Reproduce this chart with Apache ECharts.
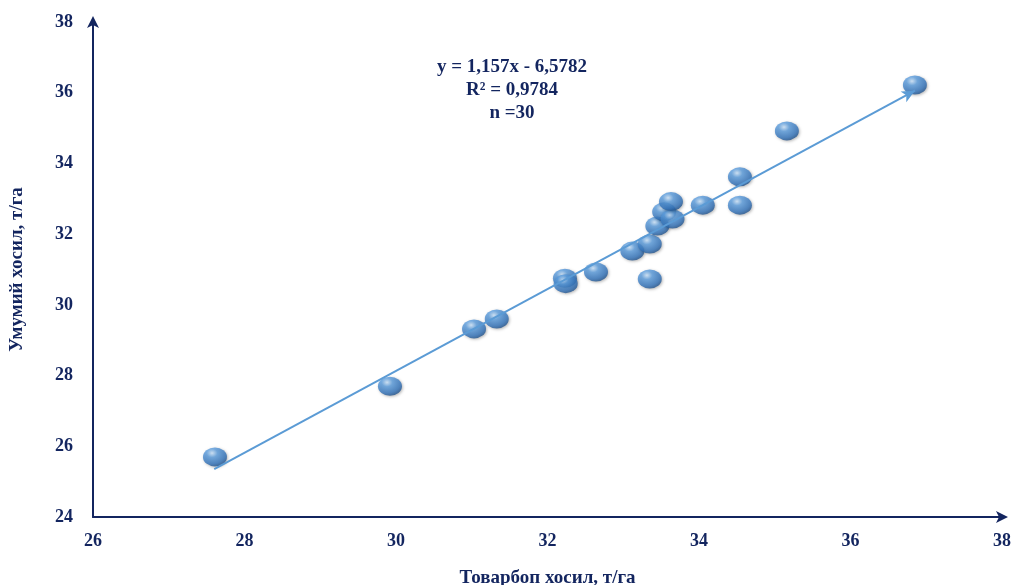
<!DOCTYPE html>
<html>
<head>
<meta charset="utf-8">
<script src="https://cdn.jsdelivr.net/npm/echarts@6/dist/echarts.min.js"></script>
<style>
  html, body { margin: 0; padding: 0; background: #fff; }
  #chart { width: 1019px; height: 585px; }
</style>
</head>
<body>
<div id="chart"></div>
<script>
// observed points (товарбоп хосил, умумий хосил)
var xVals = [27.61, 29.92, 31.03, 31.33, 32.23, 32.24, 32.64, 33.12, 33.35, 33.35, 33.45, 33.54, 33.65, 33.63, 34.05, 34.54, 34.54, 35.16, 36.85];
var yVals = [25.70, 27.70, 29.32, 29.60, 30.75, 30.60, 30.93, 31.52, 31.72, 30.73, 32.23, 32.63, 32.43, 32.92, 32.82, 33.62, 32.82, 34.92, 36.22];
var xTicks = [26, 28, 30, 32, 34, 36, 38];
var yTicks = [24, 26, 28, 30, 32, 34, 36, 38];
var slope = 1.157;
var intercept = -6.5782;
var trendX = [27.6, 36.85];
var annotation = ['y = 1,157x - 6,5782', 'R² = 0,9784', 'n =30'];

var navy = '#13255f';
var font = '"Liberation Serif", "DejaVu Serif", serif';

var chart = echarts.init(document.getElementById('chart'));

var points = xVals.map(function (x, i) { return [x, yVals[i]]; });
var trend = trendX.map(function (x) { return { coord: [x, slope * x + intercept] }; });

var sphere = new echarts.graphic.RadialGradient(0.38, 0.3, 0.75, [
    { offset: 0, color: '#d0e8ff' },
    { offset: 0.3, color: '#5d9fe0' },
    { offset: 0.75, color: '#3475bd' },
    { offset: 1, color: '#1f4f87' }
]);

var option = {
    animation: false,
    grid: { left: 93, right: 17, top: 22, bottom: 68, containLabel: false, outerBoundsMode: 'none' },
    xAxis: {
        type: 'value',
        min: 26, max: 38, interval: 2,
        name: 'Товарбоп хосил, т/га',
        nameLocation: 'middle',
        nameGap: 52,
        nameTextStyle: { color: navy, fontFamily: font, fontWeight: 'bold', fontSize: 19 },
        axisLine: { show: true, symbol: ['none', 'arrow'], symbolSize: [9, 12], symbolOffset: [0, 6], lineStyle: { color: navy, width: 2 } },
        axisTick: { show: false },
        splitLine: { show: false },
        axisLabel: { color: navy, fontFamily: font, fontWeight: 'bold', fontSize: 18, margin: 15,
            formatter: function (v) { return xTicks.indexOf(v) >= 0 ? v : ''; } }
    },
    yAxis: {
        type: 'value',
        min: 24, max: 38, interval: 2,
        name: 'Умумий хосил, т/га',
        nameLocation: 'middle',
        nameGap: 66,
        nameTextStyle: { color: navy, fontFamily: font, fontWeight: 'bold', fontSize: 19 },
        axisLine: { show: true, symbol: ['none', 'arrow'], symbolSize: [9, 12], symbolOffset: [0, 6], lineStyle: { color: navy, width: 2 } },
        axisTick: { show: false },
        splitLine: { show: false },
        axisLabel: { color: navy, fontFamily: font, fontWeight: 'bold', fontSize: 18, margin: 20,
            formatter: function (v) { return yTicks.indexOf(v) >= 0 ? v : ''; } }
    },
    graphic: [{
        type: 'text',
        x: 512,
        y: 56,
        style: {
            text: annotation.join('\n'),
            textAlign: 'center',
            fill: navy,
            font: 'bold 19px ' + font,
            lineHeight: 23
        }
    }],
    series: [{
        type: 'scatter',
        data: points,
        symbol: 'circle',
        symbolSize: [24, 19],
        z: 3,
        itemStyle: {
            color: sphere,
            shadowColor: 'rgba(0,0,0,0.35)',
            shadowBlur: 3,
            shadowOffsetX: 1,
            shadowOffsetY: 1
        },
        markLine: {
            silent: true,
            symbol: ['none', 'arrow'],
            symbolSize: [9, 13],
            label: { show: false },
            lineStyle: { color: '#5b9bd5', width: 2, type: 'solid' },
            data: [trend]
        }
    }]
};

chart.setOption(option);
</script>
</body>
</html>
